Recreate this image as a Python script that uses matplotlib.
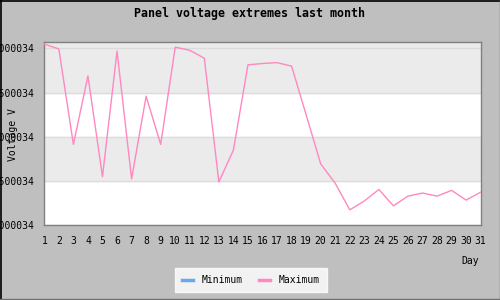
import matplotlib.pyplot as plt
from matplotlib.lines import Line2D

days = list(range(1, 32))
maximum = [4.10, 3.99, 1.83, 3.38, 1.10, 3.94, 1.05, 2.92, 1.83, 4.03,
           3.96, 3.78, 0.98, 1.70, 3.63, 3.66, 3.68, 3.60, 2.50, 1.39,
           0.95, 0.35, 0.55, 0.81, 0.44, 0.66, 0.73, 0.66, 0.79, 0.57, 0.75]
minimum = []
y_ticks = [0, 1, 2, 3, 4]
y_labels = ['12.000034', '12.500034', '13.000034', '13.500034', '14.000034']

plt.rcParams['font.family'] = ['DejaVu Sans Mono']

fig = plt.figure(figsize=(5, 3), dpi=100, facecolor='#bfbfbf')
ax = fig.add_axes([0.0886, 0.249, 0.8728, 0.61])
ax.set_facecolor('white')

# bands
ax.axhspan(1, 2, color='#ebebeb', zorder=0)
ax.axhspan(3, 4.2, color='#ebebeb', zorder=0)
for t in y_ticks:
    ax.axhline(t, color='#dcdcdc', lw=1, zorder=1)

ax.plot(days, maximum, color='#ff88c0', lw=1, zorder=3)
ax.plot(days[:len(minimum)], minimum, color='#66aaee', lw=1, zorder=3)

ax.set_xlim(1, 31)
ax.set_ylim(0, 4.14)
ax.set_xticks(days)
ax.set_xticklabels([str(d) for d in days], fontsize=7)
ax.set_yticks(y_ticks)
ax.set_yticklabels(y_labels, fontsize=7)
ax.tick_params(length=0, pad=8)
ax.tick_params(axis='y', pad=7)
for s in ax.spines.values():
    s.set_color('#808080')
    s.set_linewidth(1)

fig.text(0.5, 1 - 14 / 300, 'Panel voltage extremes last month', ha='center',
         va='center', fontsize=8.4, fontweight='bold')
fig.text(13 / 500, 1 - 135 / 300, 'Voltage V', rotation=90, ha='center',
         va='center', fontsize=7)
fig.text(470 / 500, 1 - 261 / 300, 'Day', ha='center', va='center', fontsize=7)

handles = [Line2D([], [], color='#66aaee', lw=2.5),
           Line2D([], [], color='#ff88c0', lw=2.5)]
leg = fig.legend(handles, ['Minimum', 'Maximum'], loc='center',
                 bbox_to_anchor=(251 / 500, 1 - 280 / 300), ncol=2, fontsize=7,
                 handlelength=1.15, handletextpad=0.9, columnspacing=1.6,
                 frameon=True, fancybox=False, borderpad=0.7)
leg.get_frame().set_facecolor('white')
leg.get_frame().set_edgecolor('white')

# outer border: dark on left/top, gray on right/bottom
fig.add_artist(Line2D([0.001, 0.001], [0, 1], color='black', lw=1.2,
                      transform=fig.transFigure))
fig.add_artist(Line2D([0, 1], [0.998, 0.998], color='black', lw=1.2,
                      transform=fig.transFigure))
fig.add_artist(Line2D([0.999, 0.999], [0, 1], color='#707070', lw=1,
                      transform=fig.transFigure))
fig.add_artist(Line2D([0, 1], [0.002, 0.002], color='#707070', lw=1,
                      transform=fig.transFigure))

fig.savefig('out.png', dpi=100, facecolor=fig.get_facecolor())
